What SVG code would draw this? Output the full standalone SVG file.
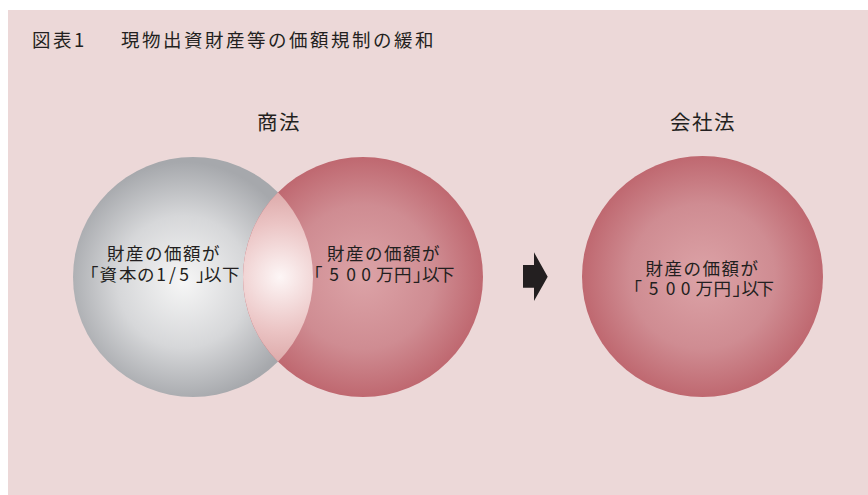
<svg xmlns="http://www.w3.org/2000/svg" width="868" height="495" viewBox="0 0 868 495">
<style>
.t{font-family:"Noto Sans CJK JP","Noto Sans",sans-serif;fill:#231f20}
.title{font-size:18.5px;letter-spacing:2.5px}
.head{font-size:20.5px;text-anchor:middle;letter-spacing:1.5px}
.lbl{font-size:17.5px;letter-spacing:1.5px}
.lbl2{font-size:17.5px}
</style>
<defs>
<radialGradient id="gGray" cx="0.46" cy="0.52" r="0.5">
<stop offset="0" stop-color="#f6f6f6"/>
<stop offset="0.55" stop-color="#d6d7d9"/>
<stop offset="1" stop-color="#a6a8ac"/>
</radialGradient>
<radialGradient id="gRed" cx="0.5" cy="0.5" r="0.5">
<stop offset="0" stop-color="#dca3a7"/>
<stop offset="0.6" stop-color="#cf8c92"/>
<stop offset="1" stop-color="#bf6870"/>
</radialGradient>
<radialGradient id="gLens" gradientUnits="userSpaceOnUse" cx="280" cy="277" r="90">
<stop offset="0" stop-color="#fdf6f6"/>
<stop offset="0.6" stop-color="#ebc4c4"/>
<stop offset="1" stop-color="#dba6a6"/>
</radialGradient>
</defs>
<rect x="8" y="10" width="860" height="485" fill="#ecd8d8"/>
<g id="title">
<text class="t title" x="32" y="47">図表1</text>
<text class="t title" x="121" y="47">現物出資財産等の価額規制の緩和</text>
</g>
<g id="header-shoho"><text class="t head" x="279" y="130">商法</text></g>
<g id="header-kaisha"><text class="t head" x="703" y="130">会社法</text></g>
<g id="circle-capital">
<circle cx="193" cy="277" r="120" fill="url(#gGray)"/>
</g>
<g id="circle-500-shoho">
<circle cx="363" cy="277" r="120" fill="url(#gRed)"/>
</g>
<g id="intersection">
<path d="M278 192.3 A120 120 0 0 1 278 361.7 A120 120 0 0 1 278 192.3 Z" fill="url(#gLens)"/>
</g>
<g id="labels-shoho">
<text class="t lbl" x="107" y="259.5">財産の価額が</text>
<text class="t lbl2" x="81 99.5 119 137 156.3 169 179.3 196 204 222" y="280.5">「資本の1/5」以下</text>
<text class="t lbl" x="327" y="259.5">財産の価額が</text>
<text class="t lbl2" x="305 329.3 346.3 361.3 376 394 413 422 437" y="280.5">「500万円」以下</text>
</g>
<g id="connectors">
<polygon points="523,265 534,265 534,252.3 547.7,276.7 534,301 534,287.7 523,287.7" fill="#231f20"/>
</g>
<g id="circle-500-kaisha">
<circle cx="702.5" cy="276.5" r="120.5" fill="url(#gRed)"/>
<text class="t lbl" x="645.5" y="274.5">財産の価額が</text>
<text class="t lbl2" x="624.5 648.8 665.8 680.8 695.5 713.5 732.5 741.5 756.5" y="295">「500万円」以下</text>
</g>
</svg>
